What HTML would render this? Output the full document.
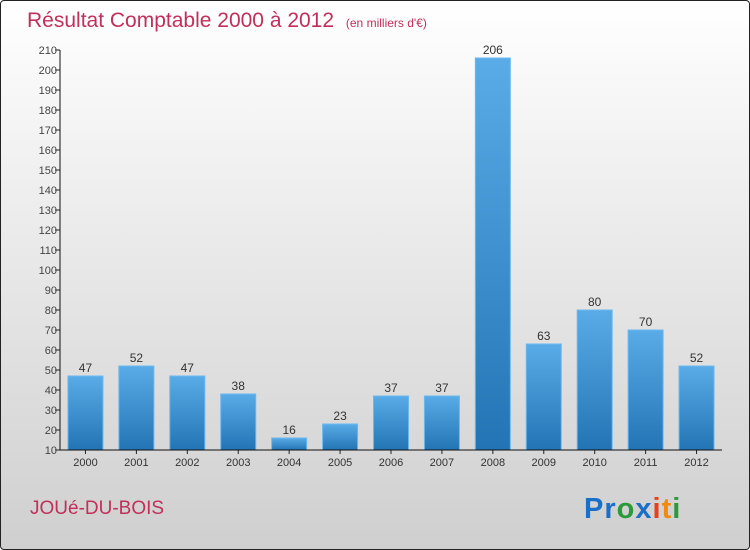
<!DOCTYPE html>
<html><head><meta charset="utf-8"><style>
html,body{margin:0;padding:0;}
body{width:750px;height:550px;overflow:hidden;font-family:"Liberation Sans",sans-serif;}
#frame{position:absolute;left:0;top:0;width:748px;height:548px;border:1px solid #222;border-radius:4px;background:linear-gradient(#ffffff,#cfcfcf);}
</style></head><body>
<div id="frame">
<svg id="chart" width="750" height="550" style="position:absolute;left:-1px;top:-1px">
<defs><linearGradient id="bg" x1="0" y1="0" x2="0" y2="1"><stop offset="0" stop-color="#5aace8"/><stop offset="1" stop-color="#2274b4"/></linearGradient></defs>
<text x="27" y="27" font-size="21" fill="#c0305a">Résultat Comptable 2000 à 2012 <tspan font-size="12" dx="6">(en milliers d'€)</tspan></text>
<text x="30" y="514" font-size="19" fill="#c0305a">JOUé-DU-BOIS</text>
<text x="584" y="518" font-size="29" font-weight="bold" letter-spacing="1"><tspan fill="#1a6fc8">Pr</tspan><tspan fill="#2a9a3a">o</tspan><tspan fill="#1a6fc8">x</tspan><tspan fill="#e8401a">i</tspan><tspan fill="#f08a10">t</tspan><tspan fill="#2a9a3a">i</tspan></text>
</svg>
</div>
<script>
const categories=["2000","2001","2002","2003","2004","2005","2006","2007","2008","2009","2010","2011","2012"];
const values=[47,52,47,38,16,23,37,37,206,63,80,70,52];
const ticks=[10,20,30,40,50,60,70,80,90,100,110,120,130,140,150,160,170,180,190,200,210];
const svg=document.getElementById('chart');const NS="http://www.w3.org/2000/svg";
const x0=60,x1=722,yMin=10,yMax=210,yTop=50,yBot=450;
const band=(x1-x0)/categories.length;
const xC=i=>x0+band*(i+0.5);
const y=v=>yBot-(v-yMin)/(yMax-yMin)*(yBot-yTop);
function mk(t,a){const e=document.createElementNS(NS,t);for(const k in a)e.setAttribute(k,a[k]);svg.appendChild(e);return e;}
ticks.forEach(t=>{
 const l=mk('line',{x1:x0-5,x2:x0,y1:y(t),y2:y(t),stroke:'#222'});
 
 
 const tx=mk('text',{x:x0-3,y:y(t)+4,'text-anchor':'end','font-size':'11',fill:'#444'});tx.textContent=t;
 
 
});
categories.forEach((c,i)=>{
 const v=values[i],w=35;
 const r=mk('rect',{x:xC(i)-w/2,y:y(v),width:w,height:yBot-y(v),fill:'url(#bg)',stroke:'#6cb8ee','stroke-width':1});
 
 
 const vl=mk('text',{x:xC(i),y:y(v)-4,'text-anchor':'middle','font-size':'12',fill:'#333'});vl.textContent=v;
 
 
 const tk=mk('line',{x1:xC(i),x2:xC(i),y1:yBot,y2:yBot+4,stroke:'#222'});
 
 
 const xl=mk('text',{x:xC(i),y:yBot+16,'text-anchor':'middle','font-size':'11',fill:'#333'});xl.textContent=c;
 
 
});
const ya=mk('line',{x1:x0,x2:x0,y1:yTop,y2:yBot,stroke:'#111'});


const xa=mk('line',{x1:x0,x2:x1,y1:yBot,y2:yBot,stroke:'#111'});


</script>
</body></html>
